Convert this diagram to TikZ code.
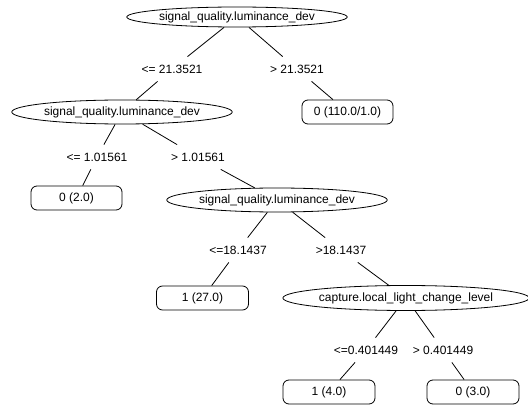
\documentclass[tikz,border=0pt]{standalone}
\usepackage{fontspec}
\setmainfont{Liberation Sans}
\usetikzlibrary{shapes.geometric}
\begin{document}
\begin{tikzpicture}[x=1pt,y=-1pt,
  font=\fontsize{12}{14}\selectfont,
  every path/.style={line width=0.8pt},
  split/.style={draw, ellipse, inner sep=0pt, minimum height=24pt},
  leaf/.style={draw, rectangle, rounded corners=6pt, inner sep=0pt, minimum width=92pt, minimum height=24pt},
  cond/.style={inner sep=0pt, minimum height=24pt},
  edge/.style={draw}]
\useasboundingbox (0,0) rectangle (528,409);
\node[split, minimum width=218pt, minimum height=20pt] (root) at (237,17) {signal\_quality.luminance\_dev};
\node[cond] (c1l) at (172,69) {<= 21.3521};
\node[cond] (c1r) at (297,69) {> 21.3521};
\node[split, minimum width=220pt] (e2) at (122,112) {signal\_quality.luminance\_dev};
\node[leaf, minimum width=91pt] (l110) at (347.5,112) {0 (110.0/1.0)};
\node[cond] (c2l) at (97,157) {<= 1.01561};
\node[cond] (c2r) at (198,157) {> 1.01561};
\node[leaf, minimum width=91pt] (l2) at (76.5,198) {0 (2.0)};
\node[split, minimum width=218pt] (e3) at (277,200) {signal\_quality.luminance\_dev};
\node[cond] (c3l) at (238,250) {<=18.1437};
\node[cond] (c3r) at (341,250) {>18.1437};
\node[leaf] (l27) at (202.5,298) {1 (27.0)};
\node[split, minimum width=234pt, minimum height=25pt] (e4) at (406,298) {capture.local\_light\_change\_level};
\node[cond] (c4l) at (366,350) {<=0.401449};
\node[cond] (c4r) at (443,350) {> 0.401449};
\node[leaf] (l4) at (329,392) {1 (4.0)};
\node[leaf] (l3) at (473,392) {0 (3.0)};
\draw (root) -- (c1l);
\draw (root) -- (c1r);
\draw (c1l) -- (e2);
\draw (c1r) -- (l110);
\draw (e2) -- (c2l);
\draw (e2) -- (c2r);
\draw (c2l) -- (l2);
\draw (c2r) -- (e3);
\draw (e3) -- (c3l);
\draw (e3) -- (c3r);
\draw (c3l) -- (l27);
\draw (c3r) -- (e4);
\draw (e4) -- (c4l);
\draw (e4) -- (c4r);
\draw (c4l) -- (l4);
\draw (c4r) -- (l3);
\end{tikzpicture}
\end{document}
